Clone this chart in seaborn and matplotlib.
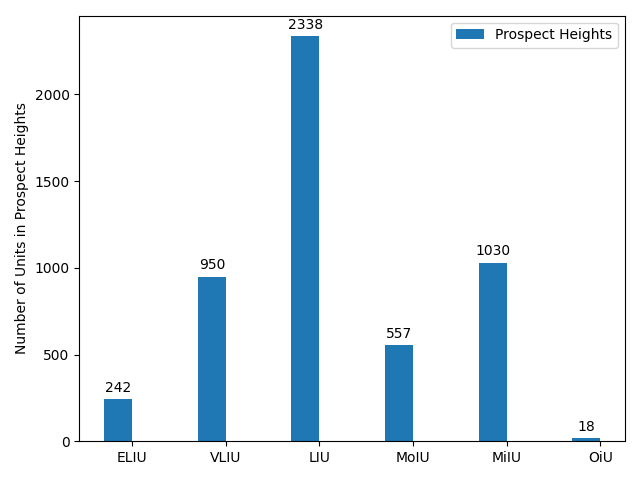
import matplotlib
matplotlib.use("Agg")
import matplotlib.pyplot as plt
import seaborn as sns
import numpy as np
import pandas as pd

categories = ["ELIU", "VLIU", "LIU", "MoIU", "MiIU", "OiU"]
units = [242, 950, 2338, 557, 1030, 18]
series_label = "Prospect Heights"

width = 0.3
pos = np.arange(len(categories))
df = pd.DataFrame({"x": pos - width / 2, "units": units})

fig, ax = plt.subplots(figsize=(6.4, 4.8), dpi=100)
sns.barplot(data=df, x="x", y="units", native_scale=True, width=width,
            color="#1f77b4", saturation=1, label=series_label, ax=ax, errorbar=None)
ax.bar_label(ax.containers[0], padding=3)
ax.set_xticks(pos)
ax.set_xticklabels(categories)
ax.set_xlabel("")
ax.set_ylabel("Number of Units in Prospect Heights")
ax.set_xlim(-0.565, 5.265)
ax.legend(loc="upper right")
fig.tight_layout()
fig.savefig("out.png", dpi=100)
